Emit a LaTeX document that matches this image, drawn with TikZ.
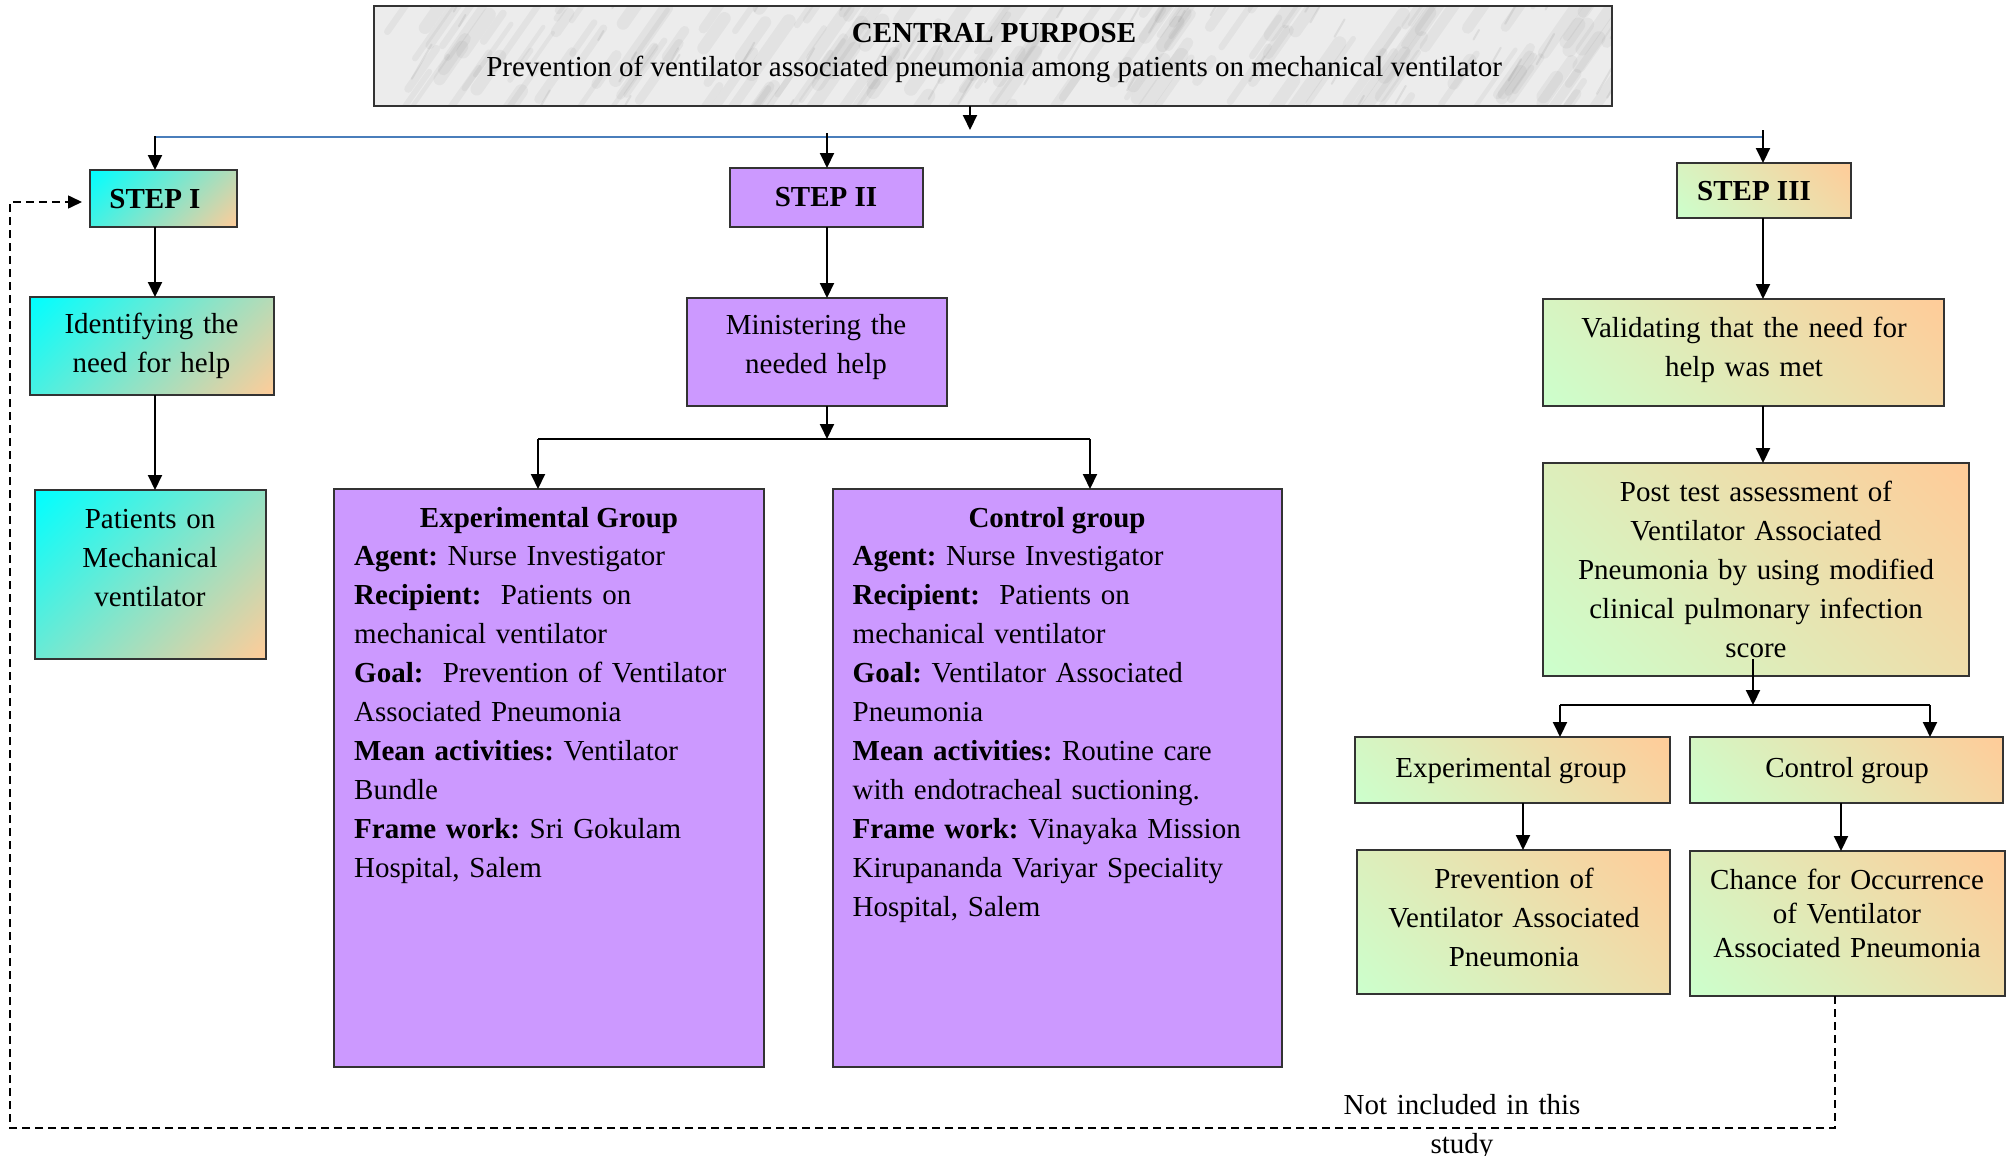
\documentclass[tikz,border=0pt]{standalone}
\usepackage{fontspec}
\setmainfont{Liberation Serif}
\usetikzlibrary{arrows.meta,calc}
\definecolor{purp}{HTML}{CC99FF}
\definecolor{peach}{HTML}{FFCC99}
\definecolor{lgreen}{HTML}{CCFFCC}
\definecolor{cyanc}{HTML}{00FFFF}
\definecolor{bluel}{HTML}{4A7EBB}
\definecolor{marble}{HTML}{ECECEC}
\pgfdeclareverticalshading{cyanpeach}{100bp}{color(0bp)=(peach); color(15bp)=(peach); color(85bp)=(cyanc); color(100bp)=(cyanc)}
\pgfdeclareverticalshading{peachgreen}{100bp}{color(0bp)=(lgreen); color(15bp)=(lgreen); color(85bp)=(peach); color(100bp)=(peach)}
\frenchspacing
\begin{document}
\begin{tikzpicture}[x=1pt,y=-1pt,
  fnt/.style={font=\fontsize{29}{39}\selectfont},
  box/.style={draw=black!80, line width=1.5pt, inner sep=0pt, outer sep=0pt},
  purpbox/.style={box, fill=purp},
  cyanbox/.style={box, shading=cyanpeach, shading angle=45},
  greenbox/.style={box, shading=peachgreen, shading angle=-45},
  txt/.style={fnt, inner sep=0pt, anchor=base, align=center},
  conn/.style={line width=2pt, black},
  arr/.style={conn, -{Triangle[length=15pt,width=14pt]}},
  dashconn/.style={line width=1.6pt, dash pattern=on 8pt off 5pt, -{Triangle[length=14pt,width=13pt]}},
]
\useasboundingbox (0,0) rectangle (2013,1156);

% ---------- central purpose ----------
\node[inner sep=0pt, outer sep=0pt, fill=marble, minimum width=1238pt, minimum height=100pt] (central) at (993,56) {};
\begin{scope}
  \clip (central.south west) rectangle (central.north east);
  \pgfmathsetseed{12}
  \foreach \i in {1,...,170}{
    \pgfmathsetmacro\xx{374+1238*rnd}
    \pgfmathsetmacro\yy{6+120*rnd}
    \pgfmathsetmacro\ll{20+70*rnd}
    \pgfmathsetmacro\ww{4+10*rnd}
    \draw[black!50, line width=\ww pt, opacity=0.09, line cap=round] (\xx,\yy) -- ++(-55:\ll);
  }
  \foreach \i in {1,...,50}{
    \pgfmathsetmacro\xx{374+1238*rnd}
    \pgfmathsetmacro\yy{6+110*rnd}
    \pgfmathsetmacro\ll{10+30*rnd}
    \draw[black!55, line width=2pt, opacity=0.13, line cap=round] (\xx,\yy) -- ++(-60:\ll);
  }
\end{scope}
\draw[line width=1.5pt, black!80] (central.south west) rectangle (central.north east);
\node[txt] (centralA) at (994,43) {\textbf{CENTRAL PURPOSE}};
\node[txt] (centralB) at (994,77) {Prevention of ventilator associated pneumonia among patients on mechanical ventilator};

% ---------- boxes ----------
\node[cyanbox, minimum width=147pt, minimum height=57pt] (step1) at (163.5,198.5) {};
\node[purpbox, minimum width=193pt, minimum height=59pt] (step2) at (826.5,197.5) {};
\node[greenbox, minimum width=174pt, minimum height=55pt] (step3) at (1764,190.5) {};
\node[cyanbox, minimum width=244pt, minimum height=98pt] (ident) at (152,346) {};
\node[purpbox, minimum width=260pt, minimum height=108pt] (minis) at (817,352) {};
\node[greenbox, minimum width=401pt, minimum height=107pt] (valid) at (1743.5,352.5) {};
\node[cyanbox, minimum width=231pt, minimum height=169pt] (patients) at (150.5,574.5) {};
\node[purpbox, minimum width=430pt, minimum height=578pt] (expG) at (549,778) {};
\node[purpbox, minimum width=449pt, minimum height=578pt] (ctrl) at (1057.5,778) {};
\node[greenbox, minimum width=426pt, minimum height=213pt] (post) at (1756,569.5) {};
\node[greenbox, minimum width=315pt, minimum height=66pt] (expS) at (1512.5,770) {};
\node[greenbox, minimum width=313pt, minimum height=66pt] (ctrlS) at (1846.5,770) {};
\node[greenbox, minimum width=313pt, minimum height=144pt] (prev) at (1513.5,922) {};
\node[greenbox, minimum width=315pt, minimum height=145pt] (chance) at (1847.5,923.5) {};

% ---------- texts ----------
\node[txt] (step1t) at (155,208) {\textbf{STEP I}};
\node[txt] (step2t) at (826,206) {\textbf{STEP II}};
\node[txt] (step3t) at (1754,200) {\textbf{STEP III}};
\node[txt, text width=240pt] (identt) at (151.5,333) {Identifying the\\need for help};
\node[txt, text width=255pt] (minist) at (816,334) {Ministering the\\needed help};
\node[txt, text width=395pt] (validt) at (1744,337) {Validating that the need for\\help was met};
\node[txt, text width=225pt] (patientst) at (150,528) {Patients on\\Mechanical\\ventilator};
\node[txt, text width=420pt] (postt) at (1756,501) {Post test assessment of\\Ventilator Associated\\Pneumonia by using modified\\clinical pulmonary infection\\score};
\node[txt] (expSt) at (1511,777) {Experimental group};
\node[txt] (ctrlSt) at (1847,777) {Control group};
\node[txt, text width=310pt] (prevt) at (1514,888) {Prevention of\\Ventilator Associated\\Pneumonia};
\node[txt, text width=310pt, font=\fontsize{29}{34}\selectfont] (chancet) at (1847,889) {Chance for Occurrence\\of Ventilator\\Associated Pneumonia};
\node[txt, text width=300pt] (notet) at (1462,1114) {Not included in this\\study};

\node[txt] (expGt) at (549,527) {\textbf{Experimental Group}};
\node[fnt, inner sep=0pt, anchor=base west, text width=410pt, align=left] (expGb) at (354,565) {%
\textbf{Agent:} Nurse Investigator\\
\textbf{Recipient:}\ \ Patients on\\
mechanical ventilator\\
\textbf{Goal:}\ \ Prevention of Ventilator\\
Associated Pneumonia\\
\textbf{Mean activities:} Ventilator\\
Bundle\\
\textbf{Frame work:} Sri Gokulam\\
Hospital, Salem};
\node[txt] (ctrlt) at (1057,527) {\textbf{Control group}};
\node[fnt, inner sep=0pt, anchor=base west, text width=425pt, align=left] (ctrlb) at (852.5,565) {%
\textbf{Agent:} Nurse Investigator\\
\textbf{Recipient:}\ \ Patients on\\
mechanical ventilator\\
\textbf{Goal:} Ventilator Associated\\
Pneumonia\\
\textbf{Mean activities:} Routine care\\
with endotracheal suctioning.\\
\textbf{Frame work:} Vinayaka Mission\\
Kirupananda Variyar Speciality\\
Hospital, Salem};

% ---------- connectors ----------
\coordinate (c1) at (970,130);
\coordinate (bl) at (155,137);
\coordinate (br) at (1763,137);
\coordinate (s1) at (155,136);
\coordinate (s2) at (827,133);
\coordinate (s3) at (1763,130);
\draw[arr] (central.south -| c1) -- (c1);
\draw[bluel, line width=2pt] (bl) -- (br);
\draw[arr] (s1) -- (s1 |- step1.north);
\draw[arr] (s2) -- (s2 |- step2.north);
\draw[arr] (s3) -- (s3 |- step3.north);

\draw[arr] (step1.south -| s1) -- (ident.north -| s1);
\draw[arr] (ident.south -| s1) -- (patients.north -| s1);
\draw[arr] (step2.south -| s2) -- (minis.north -| s2);
\draw[arr] (step3.south -| s3) -- (valid.north -| s3);
\draw[arr] (valid.south -| s3) -- (post.north -| s3);

\coordinate (b2) at (827,439);
\coordinate (b2L) at (538,439);
\coordinate (b2R) at (1090,439);
\draw[arr] (minis.south -| b2) -- (b2);
\draw[conn] (b2L) -- (b2R);
\draw[arr] (b2L) -- (b2L |- expG.north);
\draw[arr] (b2R) -- (b2R |- ctrl.north);

\coordinate (b3) at (1753,705);
\coordinate (b3L) at (1560,705);
\coordinate (b3R) at (1930,705);
\draw[arr] ($(post.south -| b3)+(0,-17)$) -- (b3);
\draw[conn] (b3L) -- (b3R);
\draw[arr] (b3L) -- (b3L |- expS.north);
\draw[arr] (b3R) -- (b3R |- ctrlS.north);

\coordinate (e1) at (1523,800);
\coordinate (e2) at (1841,800);
\draw[arr] (expS.south -| e1) -- (prev.north -| e1);
\draw[arr] (ctrlS.south -| e2) -- (chance.north -| e2);

\coordinate (dBR) at (1835,1128);
\coordinate (dBL) at (10,1128);
\coordinate (dTL) at (10,202);
\draw[dashconn] (chance.south -| dBR) -- (dBR) -- (dBL) -- (dTL) -- ($(dTL -| step1.west)+(-8,0)$);
\end{tikzpicture}
\end{document}
